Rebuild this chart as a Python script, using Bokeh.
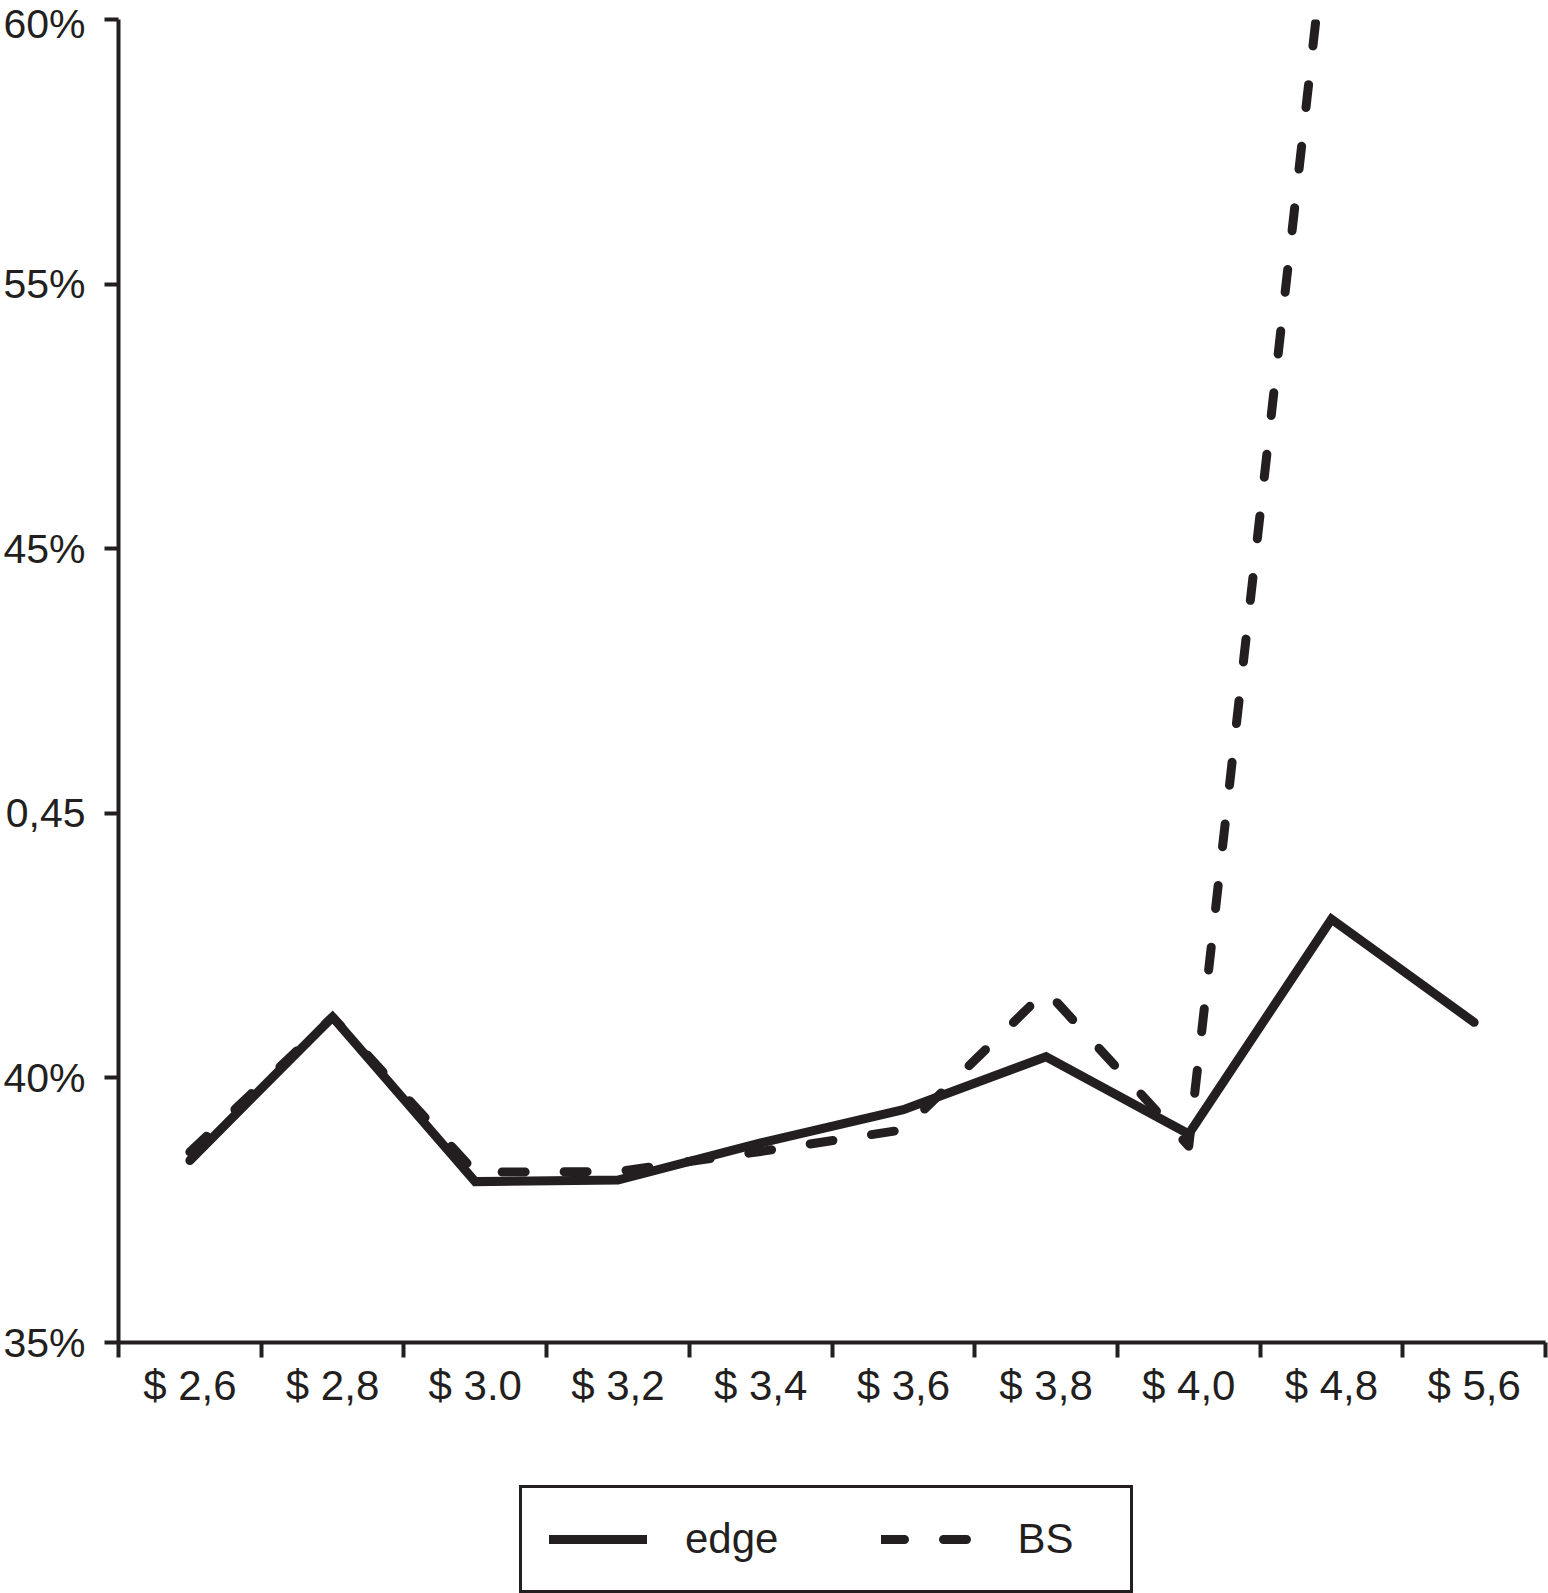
import numpy as np
from bokeh.plotting import figure
from bokeh.layouts import column
from bokeh.models import FixedTicker, Range1d, Legend, LegendItem
from bokeh.embed import file_html
from bokeh.resources import INLINE

categories = ["$ 2,6", "$ 2,8", "$ 3.0", "$ 3,2", "$ 3,4", "$ 3,6", "$ 3,8", "$ 4,0", "$ 4,8", "$ 5,6"]
edge = [38.44, 41.15, 38.04, 38.07, 38.77, 39.40, 40.40, 38.94, 43.00, 41.05]
bs = [38.60, 41.15, 38.22, 38.23, 38.61, 39.02, 41.65, 38.71, 62.6, float("nan")]
y_ticks = [35, 40, 45, 50, 55, 60]
y_labels = ["35%", "40%", "0,45", "45%", "55%", "60%"]
series_names = ["edge", "BS"]

INK = "#231f20"
FONT = "Liberation Sans"
SOLID = dict(line_color=INK, line_width=9, line_join="miter", line_cap="round")
DASHED = dict(line_color=INK, line_width=9, line_dash="23 39", line_join="round", line_cap="round")

x = np.arange(len(categories)) + 0.5

p = figure(width=1548, height=1440, output_backend="svg", toolbar_location=None,
           x_range=Range1d(0, len(categories)), y_range=Range1d(35, 60),
           min_border_left=118, min_border_right=3, min_border_top=19, min_border_bottom=98)
p.outline_line_color = None
p.grid.visible = False
p.background_fill_color = "white"
p.border_fill_color = "white"

p.line(x, edge, **SOLID)
p.line(x, bs, **DASHED)

xa = p.xaxis[0]
xa.ticker = FixedTicker(ticks=list(x), minor_ticks=list(range(len(categories) + 1)))
xa.major_label_overrides = {float(v): c for v, c in zip(x, categories)}
xa.major_tick_line_color = None
xa.major_tick_out = 0
xa.major_tick_in = 0
xa.minor_tick_line_color = INK
xa.minor_tick_line_width = 4
xa.minor_tick_out = 15
xa.minor_tick_in = 0
xa.axis_line_color = INK
xa.axis_line_width = 4
xa.major_label_text_font = FONT
xa.major_label_text_font_size = "42px"
xa.major_label_text_color = INK
xa.major_label_standoff = 4

ya = p.yaxis[0]
ya.ticker = FixedTicker(ticks=y_ticks, minor_ticks=[])
ya.major_label_overrides = {t: l for t, l in zip(y_ticks, y_labels)}
ya.major_tick_line_color = INK
ya.major_tick_line_width = 4
ya.major_tick_out = 14
ya.major_tick_in = 0
ya.minor_tick_line_color = None
ya.axis_line_color = INK
ya.axis_line_width = 4
ya.major_label_text_font = FONT
ya.major_label_text_font_size = "41px"
ya.major_label_text_color = INK
ya.major_label_standoff = 19

# legend strip below the chart (its renderers sit outside the visible range)
lf = figure(width=1548, height=153, output_backend="svg", toolbar_location=None,
            x_range=Range1d(0, 1), y_range=Range1d(0, 1), x_axis_type=None, y_axis_type=None,
            min_border=0)
lf.outline_line_color = None
lf.grid.visible = False
lf.background_fill_color = "white"
lf.border_fill_color = "white"
l1 = lf.line([-5, -4], [-5, -4], **SOLID)
l2 = lf.line([-5, -4], [-5, -4], **DASHED)

legend = Legend(items=[LegendItem(label=series_names[0], renderers=[l1]),
                       LegendItem(label=series_names[1], renderers=[l2])],
                orientation="horizontal", location=(401, 0))
legend.label_text_font = FONT
legend.label_text_font_size = "42px"
legend.label_text_color = INK
legend.glyph_width = 98
legend.glyph_height = 40
legend.label_standoff = 38
legend.label_width = 86
legend.spacing = 103
legend.padding = 27
legend.margin = 0
legend.border_line_color = INK
legend.border_line_alpha = 1
legend.border_line_width = 3
legend.background_fill_color = "white"
legend.background_fill_alpha = 1
lf.add_layout(legend, "center")

layout = column(p, lf, spacing=0)
open("out.html", "w").write(file_html(layout, INLINE))
